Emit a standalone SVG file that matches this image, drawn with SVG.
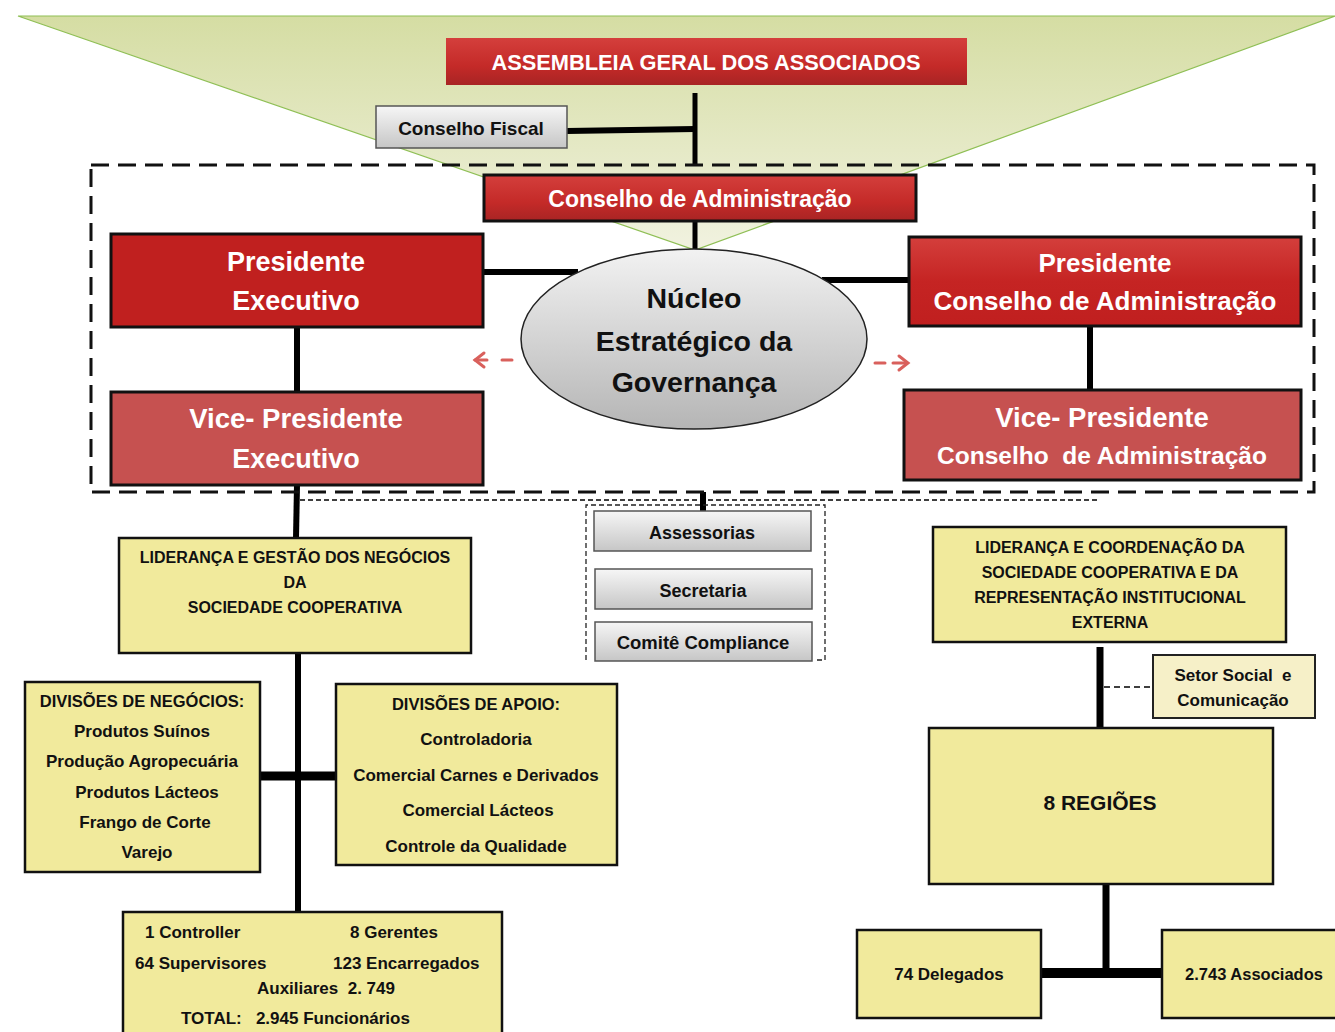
<svg xmlns="http://www.w3.org/2000/svg" width="1335" height="1032" viewBox="0 0 1335 1032">
<defs>
<linearGradient id="tri" x1="0" y1="0" x2="0" y2="1"><stop offset="0" stop-color="#d5dda3"/><stop offset="1" stop-color="#f1f2e0"/></linearGradient>
<linearGradient id="red" x1="0" y1="0" x2="0" y2="1"><stop offset="0" stop-color="#d43f3c"/><stop offset="0.6" stop-color="#c42a28"/><stop offset="1" stop-color="#a82424"/></linearGradient>
<linearGradient id="red2" x1="0" y1="0" x2="0" y2="1"><stop offset="0" stop-color="#d43f3c"/><stop offset="0.5" stop-color="#c52423"/><stop offset="1" stop-color="#c01f1f"/></linearGradient>
<linearGradient id="gray" x1="0" y1="0" x2="0" y2="1"><stop offset="0" stop-color="#f6f6f6"/><stop offset="1" stop-color="#c6c6c6"/></linearGradient>
<linearGradient id="ell" x1="0" y1="0" x2="0" y2="1"><stop offset="0" stop-color="#f2f2f2"/><stop offset="1" stop-color="#b5b5b5"/></linearGradient>
</defs>
<style>
text{font-family:"Liberation Sans",Arial,sans-serif;font-weight:bold;text-anchor:middle}
text.s{text-anchor:start}
.w{fill:#ffffff}
.k{fill:#111111}
.rb{stroke:#111;stroke-width:3}
.gb{stroke:#555;stroke-width:1.5}
.yb{fill:#f1ea9c;stroke:#111;stroke-width:2.5}
.ln{stroke:#000;fill:none}
</style>
<polygon points="18,16 1335,16 695,250" fill="url(#tri)" stroke="#8fbf55" stroke-width="1.2"/>
<g id="connectors">
<line class="ln" x1="695" y1="93" x2="695" y2="166" stroke-width="5"/>
<line class="ln" x1="567" y1="131" x2="695" y2="129" stroke-width="6"/>
<line class="ln" x1="695" y1="221" x2="695" y2="250" stroke-width="5"/>
<line class="ln" x1="483" y1="272" x2="578" y2="272" stroke-width="6"/>
<line class="ln" x1="822" y1="280" x2="909" y2="280" stroke-width="6"/>
<line class="ln" x1="297" y1="327" x2="297" y2="392" stroke-width="6"/>
<line class="ln" x1="1090" y1="326" x2="1090" y2="390" stroke-width="6"/>
<line class="ln" x1="297" y1="485" x2="296" y2="538" stroke-width="6"/>
<line class="ln" x1="703" y1="492" x2="703" y2="511" stroke-width="6"/>
<line class="ln" x1="298" y1="653" x2="298" y2="912" stroke-width="6"/>
<line class="ln" x1="260" y1="776" x2="336" y2="776" stroke-width="9"/>
<line class="ln" x1="1100" y1="647" x2="1100" y2="727" stroke-width="7"/>
<line class="ln" x1="1104" y1="687" x2="1150" y2="687" stroke-width="1.5" stroke-dasharray="6,4"/>
<line class="ln" x1="1106" y1="884" x2="1106" y2="973" stroke-width="7"/>
<line class="ln" x1="1041" y1="973" x2="1162" y2="973" stroke-width="10"/>
<line class="ln" x1="300" y1="500" x2="1098" y2="500" stroke-width="1.3" stroke-dasharray="5,3"/>
<polyline points="586,660 586,505 825,505 825,660 814,660" fill="none" stroke="#222" stroke-width="1.3" stroke-dasharray="5,3"/>
<g stroke="#d9605c" stroke-width="3" fill="none" stroke-linecap="round">
<line x1="502" y1="360" x2="512" y2="360"/><line x1="475" y1="360" x2="487" y2="360"/><polyline points="484,353 475,360 484,367"/>
<line x1="875" y1="363" x2="885" y2="363"/><line x1="893" y1="363" x2="906" y2="363"/><polyline points="899,356 908,363 899,370"/>
</g>
</g>
<rect id="governance-frame" x="91" y="165" width="1223" height="327" fill="none" stroke="#111" stroke-width="3" stroke-dasharray="18,9"/>
<g id="assembleia"><rect x="446" y="38" width="521" height="47" fill="url(#red)"/><text class="w" x="706" y="70" font-size="21.8">ASSEMBLEIA GERAL DOS ASSOCIADOS</text></g>
<g id="conselho-fiscal"><rect x="376" y="106" width="191" height="42" fill="url(#gray)" class="gb"/><text class="k" x="471" y="135" font-size="19">Conselho Fiscal</text></g>
<g id="conselho-admin"><rect x="484" y="175" width="432" height="46" fill="url(#red)" class="rb"/><text class="w" x="700" y="207" font-size="23">Conselho de Administração</text></g>
<g id="nucleo"><ellipse cx="694" cy="339" rx="173" ry="90" fill="url(#ell)" stroke="#222" stroke-width="1.5"/>
<text class="k" x="694" y="308" font-size="28.5">Núcleo</text><text class="k" x="694" y="351" font-size="28.5">Estratégico da</text><text class="k" x="694" y="392" font-size="28.5">Governança</text></g>
<g id="presidente-executivo"><rect x="111" y="234" width="372" height="93" fill="#c0201f" class="rb"/><text class="w" x="296" y="271" font-size="27">Presidente</text><text class="w" x="296" y="310" font-size="27">Executivo</text></g>
<g id="vice-executivo"><rect x="111" y="392" width="372" height="93" fill="#c65150" class="rb"/><text class="w" x="296" y="428" font-size="27.5">Vice- Presidente</text><text class="w" x="296" y="468" font-size="27">Executivo</text></g>
<g id="presidente-conselho"><rect x="909" y="237" width="392" height="89" fill="url(#red2)" class="rb"/><text class="w" x="1105" y="272" font-size="26">Presidente</text><text class="w" x="1105" y="310" font-size="26">Conselho de Administração</text></g>
<g id="vice-conselho"><rect x="904" y="390" width="397" height="90" fill="#c65150" class="rb"/><text class="w" x="1102" y="427" font-size="27.5">Vice- Presidente</text><text class="w" x="1102" y="464" font-size="24.5" xml:space="preserve">Conselho  de Administração</text></g>
<g id="assessorias"><rect x="594" y="511" width="217" height="40" fill="url(#gray)" class="gb"/><text class="k" x="702" y="539" font-size="18">Assessorias</text></g>
<g id="secretaria"><rect x="595" y="569" width="217" height="40" fill="url(#gray)" class="gb"/><text class="k" x="703" y="597" font-size="18">Secretaria</text></g>
<g id="comite"><rect x="595" y="622" width="217" height="39" fill="url(#gray)" class="gb"/><text class="k" x="703" y="649" font-size="18.5">Comitê Compliance</text></g>
<g id="lideranca-gestao"><rect x="119" y="538" width="352" height="115" class="yb" stroke-width="3"/>
<text class="k" x="295" y="563" font-size="16">LIDERANÇA E GESTÃO DOS NEGÓCIOS</text><text class="k" x="295" y="588" font-size="16">DA</text><text class="k" x="295" y="613" font-size="16">SOCIEDADE COOPERATIVA</text></g>
<g id="divisoes-negocios"><rect x="25" y="682" width="235" height="190" class="yb"/>
<text class="k" x="142" y="707" font-size="16.5">DIVISÕES DE NEGÓCIOS:</text>
<text class="k" x="142" y="737" font-size="17">Produtos Suínos</text>
<text class="k" x="142" y="767" font-size="17">Produção Agropecuária</text>
<text class="k" x="147" y="798" font-size="17">Produtos Lácteos</text>
<text class="k" x="145" y="828" font-size="17">Frango de Corte</text>
<text class="k" x="147" y="858" font-size="17">Varejo</text></g>
<g id="divisoes-apoio"><rect x="336" y="684" width="281" height="181" class="yb"/>
<text class="k" x="476" y="710" font-size="16.5">DIVISÕES DE APOIO:</text>
<text class="k" x="476" y="745" font-size="17">Controladoria</text>
<text class="k" x="476" y="781" font-size="17">Comercial Carnes e Derivados</text>
<text class="k" x="478" y="816" font-size="17">Comercial Lácteos</text>
<text class="k" x="476" y="852" font-size="17">Controle da Qualidade</text></g>
<g id="funcionarios"><rect x="123" y="912" width="379" height="130" class="yb" stroke-width="2"/>
<text class="k s" x="145" y="938" font-size="17">1 Controller</text>
<text class="k s" x="350" y="938" font-size="17">8 Gerentes</text>
<text class="k s" x="135" y="969" font-size="17">64 Supervisores</text>
<text class="k s" x="333" y="969" font-size="17">123 Encarregados</text>
<text class="k s" x="257" y="994" font-size="17" xml:space="preserve">Auxiliares  2. 749</text>
<text class="k s" x="181" y="1024" font-size="17" xml:space="preserve">TOTAL:   2.945 Funcionários</text>
</g>
<g id="lideranca-coordenacao"><rect x="933" y="527" width="353" height="115" class="yb" stroke-width="3"/>
<text class="k" x="1110" y="553" font-size="16">LIDERANÇA E COORDENAÇÃO DA</text>
<text class="k" x="1110" y="578" font-size="16">SOCIEDADE COOPERATIVA E DA</text>
<text class="k" x="1110" y="603" font-size="16">REPRESENTAÇÃO INSTITUCIONAL</text>
<text class="k" x="1110" y="628" font-size="16">EXTERNA</text></g>
<g id="setor-social"><rect x="1153" y="655" width="162" height="63" fill="#f6f0c8" stroke="#222" stroke-width="2"/>
<text class="k" x="1233" y="681" font-size="17" xml:space="preserve">Setor Social  e</text><text class="k" x="1233" y="706" font-size="17">Comunicação</text></g>
<g id="regioes"><rect x="929" y="728" width="344" height="156" class="yb"/><text class="k" x="1100" y="810" font-size="21">8 REGIÕES</text></g>
<g id="delegados"><rect x="857" y="930" width="184" height="88" class="yb" stroke-width="1.5"/><text class="k" x="949" y="980" font-size="17">74 Delegados</text></g>
<g id="associados"><rect x="1162" y="930" width="180" height="88" class="yb" stroke-width="1.5"/><text class="k" x="1254" y="980" font-size="16.5">2.743 Associados</text></g>
</svg>
